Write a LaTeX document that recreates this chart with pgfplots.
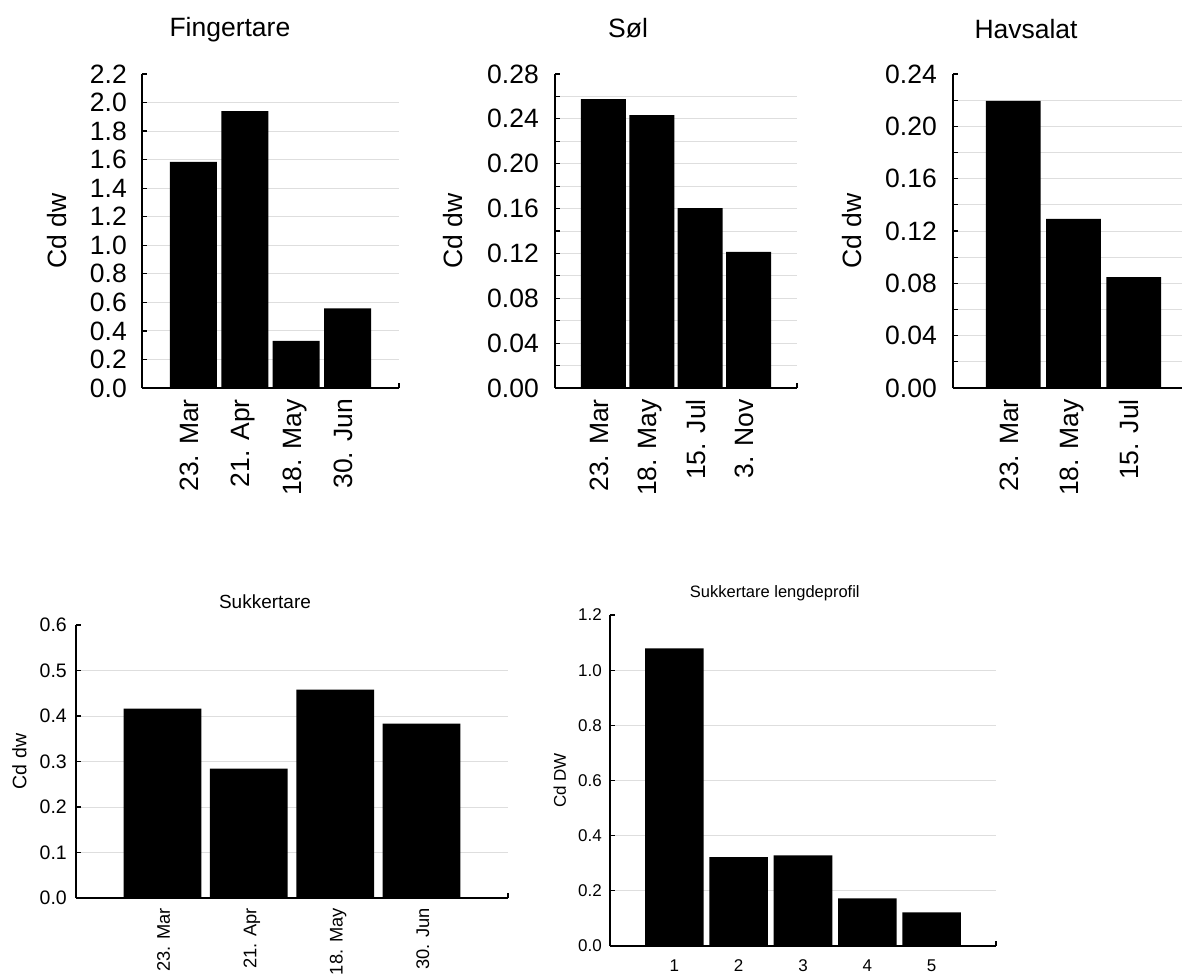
\documentclass[border=0pt]{standalone}
\usepackage{fontspec}
\setmainfont{Liberation Sans}
\usepackage{pgfplots}
\pgfplotsset{compat=1.18}
\newcommand\fA{\fontsize{26.5}{31}\selectfont}
\newcommand\fB{\fontsize{19.5}{23}\selectfont}
\newcommand\fC{\fontsize{17}{20}\selectfont}
\pgfplotsset{
  mybar/.style={
    scale only axis, anchor=south west,
    ybar, enlargelimits=false,
    axis x line*=bottom, axis y line*=left,
    axis line style={line width=1.7pt, black},
    tick align=inside, major tick length=5pt, minor tick length=5pt,
    tick style={line width=1.2pt, black},
    xtick style={draw=none},
    extra x tick style={xtick style={draw=black}},
    extra x tick labels={},
    ymajorgrids,
    grid style={color=black!13, line width=1pt},
    minor grid style={color=black!13, line width=1pt},
    extra y tick style={grid=none},
    /pgf/number format/assume math mode=true,
    yticklabel style={inner sep=0pt, anchor=east},
    ylabel style={anchor=center},
    title style={anchor=center, yshift=0pt},
  },
  rotlab/.style={
    xticklabel style={rotate=90, anchor=east, inner sep=0pt, text height=#1, text depth=0pt},
  },
  prec1/.style={yticklabel style={/pgf/number format/fixed, /pgf/number format/fixed zerofill, /pgf/number format/precision=1}},
  prec2/.style={yticklabel style={/pgf/number format/fixed, /pgf/number format/fixed zerofill, /pgf/number format/precision=2}},
}
\begin{document}
\begin{tikzpicture}
\useasboundingbox (0pt,0pt) rectangle (1182pt,-974pt);

% Fingertare
\begin{axis}[mybar, rotlab=1.0em, prec1, font=\fA,
  at={(142pt,-388pt)}, width=257pt, height=314pt,
  xmin=0, xmax=5, ymin=0, ymax=2.2,
  xtick={1,2,3,4}, xticklabels={23. Mar,21. Apr,18. May,30. Jun},
  extra x ticks={5},
  ytick={0,0.2,0.4,0.6,0.8,1.0,1.2,1.4,1.6,1.8,2.0}, extra y ticks={2.2},
  yticklabel shift=15pt, xticklabel shift=11pt,
  bar width=0.915,
  title={Fingertare}, title style={at={(axis description cs:0.342,1.121)}},
  ylabel={Cd dw}, ylabel style={at={(axis description cs:-0.332,0.5)}},
]
\addplot[fill=black, draw=none] coordinates {(1,1.584) (2,1.94) (3,0.33) (4,0.558)};
\end{axis}

% Sol
\begin{axis}[mybar, rotlab=1.0em, prec2, font=\fA,
  at={(555pt,-388pt)}, width=242pt, height=314pt,
  xmin=0, xmax=5, ymin=0, ymax=0.28,
  xtick={1,2,3,4}, xticklabels={23. Mar,18. May,15. Jul,3. Nov},
  extra x ticks={5},
  ytick={0,0.04,0.08,0.12,0.16,0.20,0.24}, extra y ticks={0.28},
  minor ytick={0.02,0.06,0.10,0.14,0.18,0.22,0.26}, yminorgrids,
  yticklabel shift=16pt, xticklabel shift=11pt,
  bar width=0.93,
  title={Søl}, title style={at={(axis description cs:0.302,1.128)}},
  ylabel={Cd dw}, ylabel style={at={(axis description cs:-0.421,0.5)}},
]
\addplot[fill=black, draw=none] coordinates {(1,0.2577) (2,0.2434) (3,0.1605) (4,0.1213)};
\end{axis}

% Havsalat
\begin{axis}[mybar, rotlab=1.0em, prec2, font=\fA,
  at={(953pt,-388pt)}, width=229pt, height=314pt,
  xmin=0, xmax=3.8, ymin=0, ymax=0.24,
  xtick={1,2,3}, xticklabels={23. Mar,18. May,15. Jul},
  ytick={0,0.04,0.08,0.12,0.16,0.20}, extra y ticks={0.24},
  minor ytick={0.02,0.06,0.10,0.14,0.18,0.22}, yminorgrids,
  yticklabel shift=16pt, xticklabel shift=11pt,
  bar width=0.91,
  title={Havsalat}, title style={at={(axis description cs:0.319,1.125)}},
  ylabel={Cd dw}, ylabel style={at={(axis description cs:-0.441,0.5)}},
]
\addplot[fill=black, draw=none] coordinates {(1,0.2194) (2,0.1292) (3,0.0848)};
\end{axis}

% Sukkertare
\begin{axis}[mybar, rotlab=1.5em, prec1, font=\fB,
  at={(76pt,-898pt)}, width=432pt, height=273pt,
  xmin=0, xmax=5, ymin=0, ymax=0.6,
  xtick={1,2,3,4}, xticklabels={23. Mar,21. Apr,18. May,30. Jun},
  xticklabel style={font=\fontsize{18.3}{22}\selectfont},
  extra x ticks={5},
  ytick={0,0.1,0.2,0.3,0.4,0.5}, extra y ticks={0.6},
  yticklabel shift=9pt, xticklabel shift=10pt,
  bar width=0.9,
  title={Sukkertare}, title style={font=\fontsize{19}{22}\selectfont, at={(axis description cs:0.4375,1.062)}},
  ylabel={Cd dw}, ylabel style={at={(axis description cs:-0.131,0.5)}},
]
\addplot[fill=black, draw=none] coordinates {(1,0.4165) (2,0.2845) (3,0.458) (4,0.3835)};
\end{axis}

% Sukkertare lengdeprofil
\begin{axis}[mybar, prec1, font=\fC,
  at={(610pt,-946pt)}, width=386pt, height=331pt,
  xmin=0, xmax=6, ymin=0, ymax=1.2,
  xtick={1,2,3,4,5}, xticklabels={1,2,3,4,5},
  extra x ticks={6},
  xticklabel style={anchor=north, inner sep=0pt, text height=0.72em, text depth=0pt},
  ytick={0,0.2,0.4,0.6,0.8,1.0}, extra y ticks={1.2},
  yticklabel shift=8pt, xticklabel shift=18pt,
  bar width=0.91,
  title={Sukkertare lengdeprofil}, title style={font=\fontsize{16.5}{20}\selectfont, at={(axis description cs:0.427,1.048)}},
  ylabel={Cd DW}, ylabel style={at={(axis description cs:-0.13,0.5)}},
]
\addplot[fill=black, draw=none] coordinates {(1,1.079) (2,0.322) (3,0.329) (4,0.173) (5,0.122)};
\end{axis}
\end{tikzpicture}
\end{document}
